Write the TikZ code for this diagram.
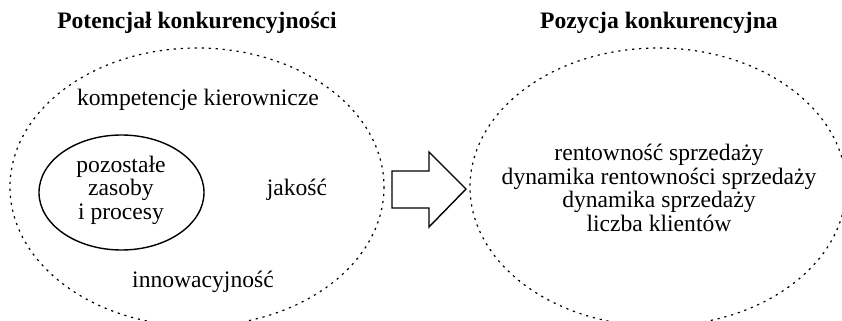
\documentclass[tikz,border=0pt]{standalone}
\usepackage{fontspec}
\setmainfont{Liberation Serif}
\usetikzlibrary{positioning}

\begin{document}
\begin{tikzpicture}[
        x=0.5pt, y=-0.5pt,
        txt/.style={font=\fontsize{11.8}{11.7}\selectfont, align=center, inner sep=0pt},
        heading/.style={txt, font=\fontsize{11.8}{11.7}\selectfont\bfseries},
        field/.style={draw, line width=0.6pt, dash pattern=on 1.1pt off 2.4pt},
        core/.style={draw, line width=0.7pt}
    ]
        \useasboundingbox (0,0) rectangle (842,321);

        % Ellipses
        \draw[field] (197,187) ellipse [x radius=187, y radius=139];
        \draw[field] (658,187) ellipse [x radius=188, y radius=139];
        \draw[core] (121.5,192.5) ellipse [x radius=82.5, y radius=57.5];

        % Headings
        \node[heading] (potential) at (197,23) {Potencjał konkurencyjności};
        \node[heading] (position) at (659,23) {Pozycja konkurencyjna};

        % Left side
        \node[txt] (management) at (198,100) {kompetencje kierownicze};
        \node[txt] (resources) at (121,190) {pozostałe\\zasoby\\i procesy};
        \node[txt] (quality) at (297,190) {jakość};
        \node[txt] (innovation) at (203,282) {innowacyjność};

        % Right side
        \node[txt] (results) at (659,188) {rentowność sprzedaży\\dynamika rentowności sprzedaży\\dynamika sprzedaży\\liczba klientów};

        % Block arrow
        \draw[line width=0.7pt, line join=miter]
            (392,171) -- (429,171) -- (429,152) -- (466,189) -- (429,227)
            -- (429,208) -- (392,208) -- cycle;

    \end{tikzpicture}
\end{document}
